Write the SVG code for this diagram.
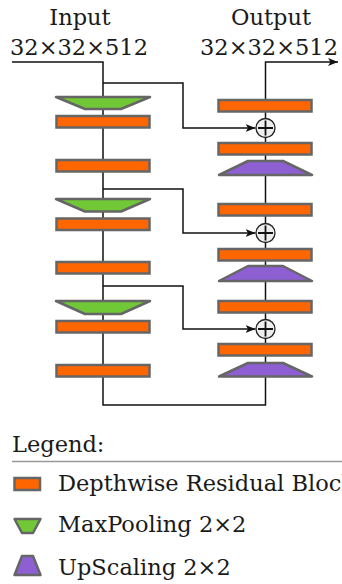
<svg xmlns="http://www.w3.org/2000/svg" width="342" height="584" viewBox="0 0 342 584">
  <style>
    text { font-family: "DejaVu Serif", "Liberation Serif", serif; fill: #1a1a1a; }
    .title { font-size: 22.5px; text-anchor: middle; }
    .leg { font-size: 22.5px; }
    .wire { fill: none; stroke: #111; stroke-width: 1.5; }
    .res { fill: #ff6600; stroke: #666; stroke-width: 2.5; }
    .pool { fill: #71c837; stroke: #666; stroke-width: 2.5; stroke-linejoin: round; }
    .up { fill: #8d5fd3; stroke: #666; stroke-width: 2.5; stroke-linejoin: round; }
    .add circle { fill: #eeeeee; stroke: #222; stroke-width: 1.3; }
    .add path { stroke: #111; stroke-width: 1.8; fill: none; }
  </style>
  <defs>
    <marker id="arrow" viewBox="0 0 10 8" refX="10" refY="4" markerWidth="10" markerHeight="8" markerUnits="userSpaceOnUse" orient="auto">
      <path d="M0,0 L10,4 L0,8 L2.5,4 Z" fill="#111"/>
    </marker>
  </defs>

  <text class="title" x="80" y="25">Input</text>
  <text class="title" x="79" y="55">32×32×512</text>
  <text class="title" x="271" y="25">Output</text>
  <text class="title" x="269" y="55">32×32×512</text>

  <!-- connectors -->
  <g id="connectors">
    <path class="wire" d="M12,62 H103 V405 H265.5 V62 H338" marker-end="url(#arrow)"/>
    <path class="wire" d="M103,83 H183 V128 H255.5" marker-end="url(#arrow)"/>
    <path class="wire" d="M103,189 H183 V233 H255.5" marker-end="url(#arrow)"/>
    <path class="wire" d="M103,286 H183 V329 H255.5" marker-end="url(#arrow)"/>
  </g>

  <!-- encoder column -->
  <g id="pool1"><polygon class="pool" points="56,97 150,97 121,109 85,109"/></g>
  <g id="enc1a"><rect class="res" x="56.5" y="116" width="93" height="11.5"/></g>
  <g id="enc1b"><rect class="res" x="56.5" y="160" width="93" height="11.5"/></g>
  <g id="pool2"><polygon class="pool" points="56,199 150,199 121,211.5 85,211.5"/></g>
  <g id="enc2a"><rect class="res" x="56.5" y="218.5" width="93" height="11.5"/></g>
  <g id="enc2b"><rect class="res" x="56.5" y="262" width="93" height="11.5"/></g>
  <g id="pool3"><polygon class="pool" points="56,301 150,301 121,314 85,314"/></g>
  <g id="enc3a"><rect class="res" x="56.5" y="321" width="93" height="11.5"/></g>
  <g id="enc3b"><rect class="res" x="56.5" y="365" width="93" height="11.5"/></g>

  <!-- decoder column -->
  <g id="dec1a"><rect class="res" x="218.5" y="100" width="93" height="11.5"/></g>
  <g id="add1" class="add"><circle cx="265.5" cy="128" r="9.5"/><path d="M258,128 H273 M265.5,120.5 V135.5"/></g>
  <g id="dec1b"><rect class="res" x="218.5" y="143" width="93" height="11.5"/></g>
  <g id="up1"><polygon class="up" points="248,161 283,161 312,175 219,175"/></g>
  <g id="dec2a"><rect class="res" x="218.5" y="204" width="93" height="11.5"/></g>
  <g id="add2" class="add"><circle cx="265.5" cy="233" r="9.5"/><path d="M258,233 H273 M265.5,225.5 V240.5"/></g>
  <g id="dec2b"><rect class="res" x="218.5" y="249" width="93" height="11.5"/></g>
  <g id="up2"><polygon class="up" points="248,266 283,266 312,281 219,281"/></g>
  <g id="dec3a"><rect class="res" x="218.5" y="301" width="93" height="11.5"/></g>
  <g id="add3" class="add"><circle cx="265.5" cy="329" r="9.5"/><path d="M258,329 H273 M265.5,321.5 V336.5"/></g>
  <g id="dec3b"><rect class="res" x="218.5" y="344" width="93" height="11.5"/></g>
  <g id="up3"><polygon class="up" points="248,363 283,363 312,376.5 219,376.5"/></g>

  <!-- legend -->
  <g id="legend">
    <text class="leg" x="12" y="452">Legend:</text>
    <line x1="12" y1="461.5" x2="342" y2="461.5" stroke="#999" stroke-width="1.5"/>
    <rect class="res" x="14.5" y="478" width="25.5" height="12"/>
    <text class="leg" x="58" y="491">Depthwise Residual Block</text>
    <polygon class="pool" points="14.5,519 40.5,519 33,533 22,533"/>
    <text class="leg" x="58" y="532">MaxPooling 2×2</text>
    <polygon class="up" points="22,556 33,556 40.5,575 14.5,575"/>
    <text class="leg" x="58" y="575">UpScaling 2×2</text>
  </g>
</svg>
